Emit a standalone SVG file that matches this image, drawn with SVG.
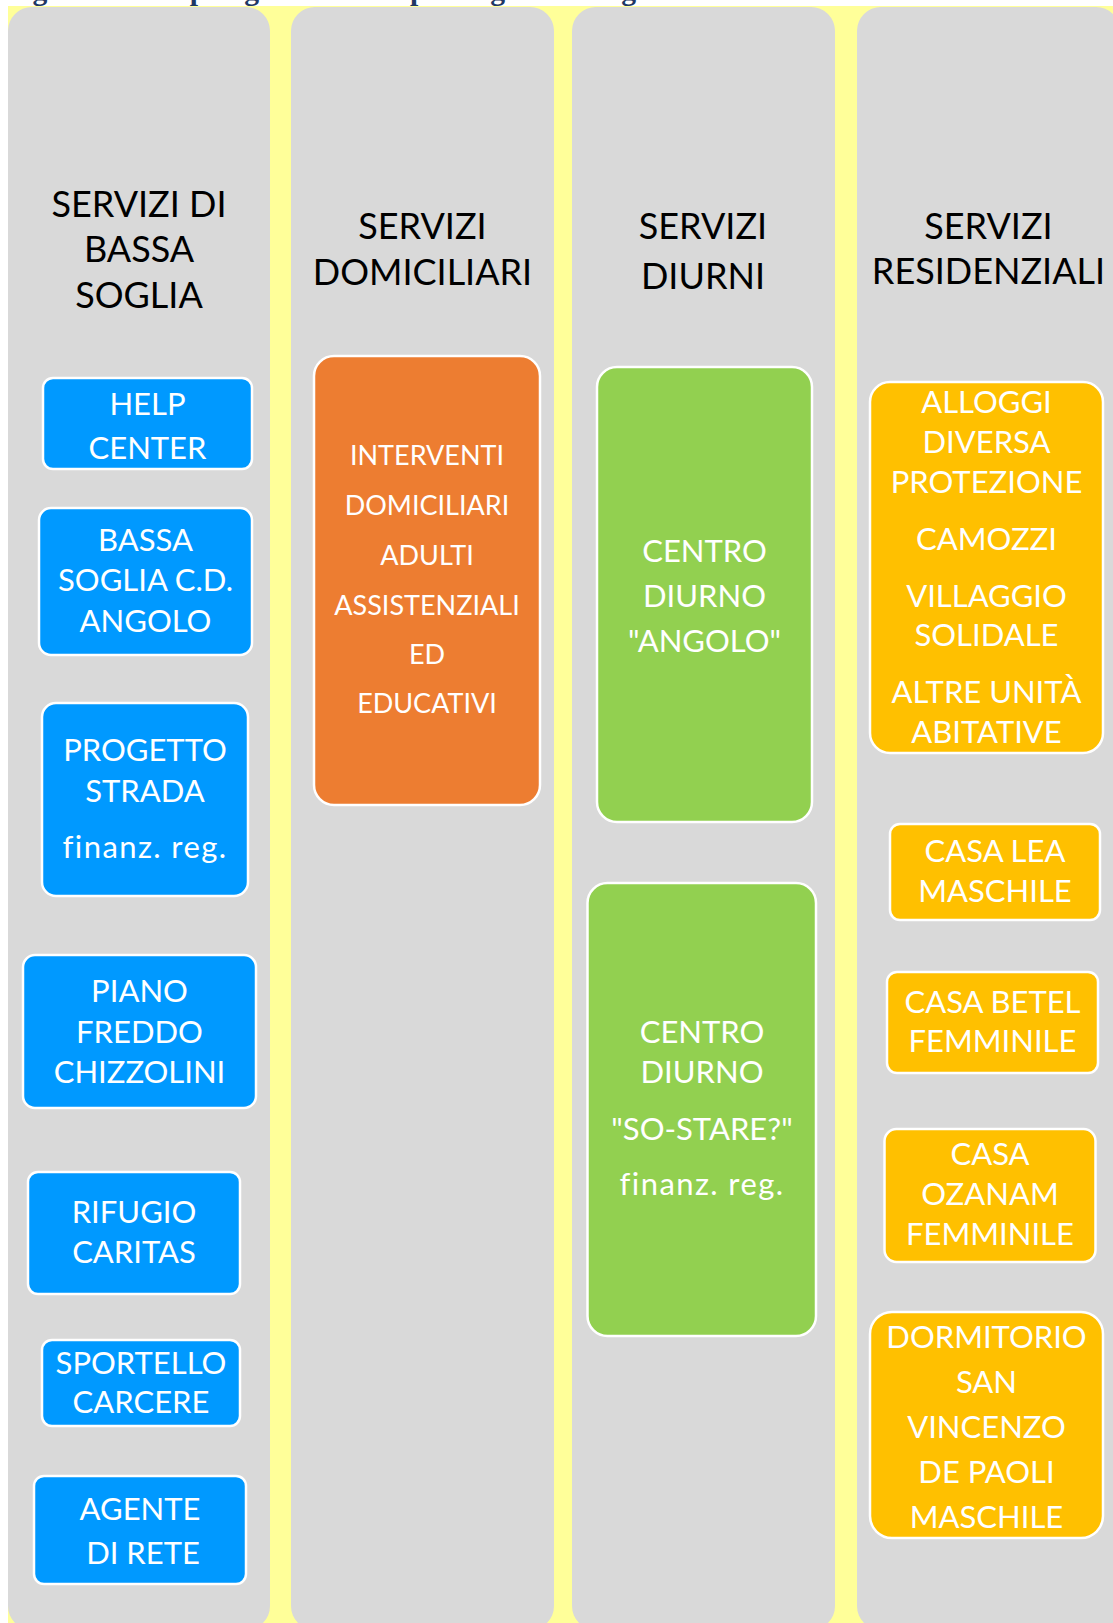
<svg xmlns="http://www.w3.org/2000/svg" width="1113" height="1623" viewBox="0 0 1113 1623">
<style>
.col{fill:#D9D9D9}
.hd{font-family:Lato,"Open Sans","Liberation Sans",sans-serif;font-size:36px;fill:#000;text-anchor:middle}
.bx{stroke:#fff;stroke-width:2.5}
.blue{fill:#0099FF}
.orange{fill:#ED7D31}
.green{fill:#92D050}
.gold{fill:#FFC000}
.t{font-family:Lato,"Open Sans","Liberation Sans",sans-serif;font-size:31px;fill:#fff;text-anchor:middle}
.fin{letter-spacing:1.4px}
.ts{font-family:Lato,"Open Sans","Liberation Sans",sans-serif;font-size:27px;fill:#fff;text-anchor:middle}
.title{font-family:"Liberation Serif","Times New Roman",serif;font-weight:bold;font-size:29.7px;fill:#1F3864}
</style>
<rect x="0" y="0" width="1113" height="1623" fill="#fff"/>
<rect x="8" y="6" width="1105" height="1617" fill="#FFFF99"/>
<text class="title" x="6" y="-0.5">Figura 4: Le tipologie di servizi per la grave marginalità</text>
<g id="columns">
<rect class="col" x="8" y="7" width="262" height="1623" rx="24" ry="24"/>
<rect class="col" x="291" y="7" width="263" height="1623" rx="24" ry="24"/>
<rect class="col" x="572" y="7" width="263" height="1623" rx="24" ry="24"/>
<rect class="col" x="857" y="7" width="263" height="1623" rx="24" ry="24"/>
</g>
<g id="headers">
<g id="h-bassa-soglia"><text class="hd" x="139" y="217">SERVIZI DI</text><text class="hd" x="139" y="262">BASSA</text><text class="hd" x="139" y="308">SOGLIA</text></g>
<g id="h-domiciliari"><text class="hd" x="422.5" y="239">SERVIZI</text><text class="hd" x="422.5" y="285">DOMICILIARI</text></g>
<g id="h-diurni"><text class="hd" x="703" y="239">SERVIZI</text><text class="hd" x="703" y="289">DIURNI</text></g>
<g id="h-residenziali"><text class="hd" x="988.5" y="239">SERVIZI</text><text class="hd" x="988.5" y="284">RESIDENZIALI</text></g>
</g>
<g id="connectors"/>
<g id="help-center"><rect class="bx blue" x="43" y="378" width="209" height="91" rx="10"/><text class="t" x="147.5" y="415">HELP</text><text class="t" x="147.5" y="459">CENTER</text></g>
<g id="bassa-soglia-cd"><rect class="bx blue" x="39" y="508" width="213" height="147" rx="12"/><text class="t" x="145.5" y="551">BASSA</text><text class="t" x="145.5" y="591">SOGLIA C.D.</text><text class="t" x="145.5" y="632">ANGOLO</text></g>
<g id="progetto-strada"><rect class="bx blue" x="42" y="703" width="206" height="193" rx="14"/><text class="t" x="145" y="761">PROGETTO</text><text class="t" x="145" y="802">STRADA</text><text class="t fin" x="145" y="858">finanz. reg.</text></g>
<g id="piano-freddo"><rect class="bx blue" x="23" y="955" width="233" height="153" rx="12"/><text class="t" x="139.5" y="1002">PIANO</text><text class="t" x="139.5" y="1043">FREDDO</text><text class="t" x="139.5" y="1083">CHIZZOLINI</text></g>
<g id="rifugio-caritas"><rect class="bx blue" x="28" y="1172" width="212" height="122" rx="10"/><text class="t" x="134" y="1223">RIFUGIO</text><text class="t" x="134" y="1263">CARITAS</text></g>
<g id="sportello-carcere"><rect class="bx blue" x="42" y="1340" width="198" height="86" rx="10"/><text class="t" x="141" y="1374">SPORTELLO</text><text class="t" x="141" y="1413">CARCERE</text></g>
<g id="agente-di-rete"><rect class="bx blue" x="34" y="1476" width="212" height="108" rx="10"/><text class="t" x="140" y="1520">AGENTE</text><text class="t" x="143" y="1564">DI RETE</text></g>
<g id="interventi-domiciliari"><rect class="bx orange" x="314" y="356" width="226" height="449" rx="20"/><text class="ts" x="427" y="465">INTERVENTI</text><text class="ts" x="427" y="515">DOMICILIARI</text><text class="ts" x="427" y="565">ADULTI</text><text class="ts" x="427" y="615">ASSISTENZIALI</text><text class="ts" x="427" y="664">ED</text><text class="ts" x="427" y="713">EDUCATIVI</text></g>
<g id="centro-diurno-angolo"><rect class="bx green" x="597" y="367" width="215" height="455" rx="20"/><text class="t" x="704.5" y="562">CENTRO</text><text class="t" x="704.5" y="607">DIURNO</text><text class="t" x="704.5" y="652">"ANGOLO"</text></g>
<g id="centro-diurno-sostare"><rect class="bx green" x="587.5" y="883" width="228.5" height="453" rx="20"/><text class="t" x="702" y="1043">CENTRO</text><text class="t" x="702" y="1083">DIURNO</text><text class="t" x="702" y="1140">"SO-STARE?"</text><text class="t fin" x="702" y="1195">finanz. reg.</text></g>
<g id="alloggi"><rect class="bx gold" x="870" y="382" width="233" height="371" rx="20"/><text class="t" x="986.5" y="413">ALLOGGI</text><text class="t" x="986.5" y="453">DIVERSA</text><text class="t" x="986.5" y="493">PROTEZIONE</text><text class="t" x="986.5" y="550">CAMOZZI</text><text class="t" x="986.5" y="607">VILLAGGIO</text><text class="t" x="986.5" y="646">SOLIDALE</text><text class="t" x="986.5" y="703">ALTRE UNITÀ</text><text class="t" x="986.5" y="743">ABITATIVE</text></g>
<g id="casa-lea"><rect class="bx gold" x="890" y="824" width="210" height="96" rx="10"/><text class="t" x="995" y="862">CASA LEA</text><text class="t" x="995" y="902">MASCHILE</text></g>
<g id="casa-betel"><rect class="bx gold" x="887" y="972" width="211" height="101" rx="10"/><text class="t" x="992.5" y="1013">CASA BETEL</text><text class="t" x="992.5" y="1052">FEMMINILE</text></g>
<g id="casa-ozanam"><rect class="bx gold" x="884.5" y="1129" width="211" height="133" rx="12"/><text class="t" x="990" y="1165">CASA</text><text class="t" x="990" y="1205">OZANAM</text><text class="t" x="990" y="1245">FEMMINILE</text></g>
<g id="dormitorio"><rect class="bx gold" x="870" y="1312" width="233" height="226" rx="22"/><text class="t" x="986.5" y="1348">DORMITORIO</text><text class="t" x="986.5" y="1393">SAN</text><text class="t" x="986.5" y="1438">VINCENZO</text><text class="t" x="986.5" y="1483">DE PAOLI</text><text class="t" x="986.5" y="1528">MASCHILE</text></g>
</svg>
